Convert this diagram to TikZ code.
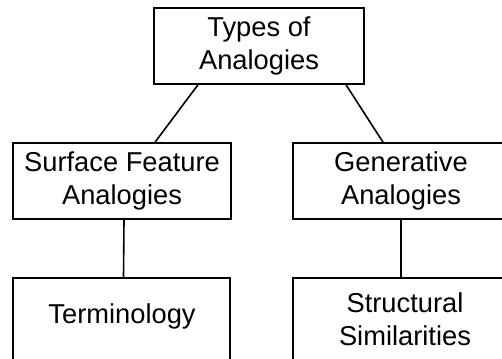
\documentclass[tikz,border=0pt]{standalone}
\usepackage{fontspec}
\setmainfont{Liberation Sans}
\begin{document}
\begin{tikzpicture}[x=1pt,y=-1pt,
  box/.style={draw, line width=1.6pt, rectangle, inner sep=0pt, align=center, font=\fontsize{27.3}{33}\selectfont},
  txt/.style={inner sep=0pt, align=center, font=\fontsize{27.3}{33}\selectfont},
  link/.style={line width=1.6pt}]
\clip (0,0) rectangle (502,358);
\node[box, minimum width=210pt, minimum height=76pt] (top) at (259,46) {Types of\\Analogies};
\node[box, minimum width=218pt, minimum height=76pt] (sf) at (122,181) {Surface Feature\\Analogies};
\node[box, minimum width=216pt, minimum height=76pt] (gen) at (401,181) {Generative\\Analogies};
\node[box, minimum width=217pt, minimum height=110pt, anchor=north] (term) at (121.5,277) {};
\node[txt] (termtext) at (122,316) {Terminology};
\node[box, minimum width=216pt, minimum height=110pt, anchor=north] (struct) at (401,277) {};
\node[txt] (structtext) at (405,319.5) {Structural\\Similarities};
\draw[link] ([xshift=-61pt]top.south) -- ([xshift=33pt]sf.north);
\draw[link] ([xshift=87pt]top.south) -- ([xshift=-18pt]gen.north);
\draw[link] ([xshift=2pt]sf.south) -- ([xshift=2pt]term.north);
\draw[link] (gen.south) -- (struct.north);
\end{tikzpicture}
\end{document}
